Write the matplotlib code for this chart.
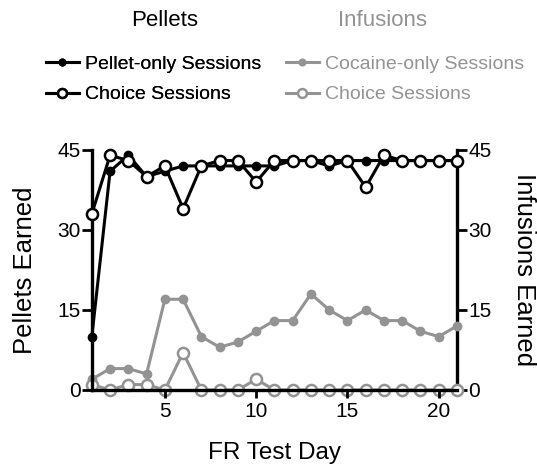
import numpy as np
import matplotlib.pyplot as plt

plt.rcParams['font.family'] = ['Liberation Sans', 'DejaVu Sans']

days = np.arange(1, 22)
pellet_only = [10, 41, 44, 40, 41, 42, 42, 42, 42, 42, 42, 43, 43, 42, 43, 43, 43, 43, 43, 43, 43]
pellet_choice = [33, 44, 43, 40, 42, 34, 42, 43, 43, 39, 43, 43, 43, 43, 43, 38, 44, 43, 43, 43, 43]
cocaine_only = [2, 4, 4, 3, 17, 17, 10, 8, 9, 11, 13, 13, 18, 15, 13, 15, 13, 13, 11, 10, 12]
infusion_choice = [1, 0, 1, 1, 0, 7, 0, 0, 0, 2, 0, 0, 0, 0, 0, 0, 0, 0, 0, 0, 0]

gray = '#939393'

fig = plt.figure(figsize=(5.37, 4.67), dpi=100)
ax = fig.add_axes([0.171, 0.165, 0.68, 0.514])
ax2 = ax.twinx()

lw = 2.2
# infusions on right axis
l3, = ax2.plot(days, cocaine_only, color=gray, lw=lw, marker='o', ms=6,
               mfc=gray, mec=gray, clip_on=False, zorder=3)
l4, = ax2.plot(days, infusion_choice, color=gray, lw=lw, marker='o', ms=8,
               mfc='white', mec=gray, mew=1.8, clip_on=False, zorder=4)
# pellets on left axis
ax.set_zorder(ax2.get_zorder() + 1)
ax.patch.set_visible(False)
l1, = ax.plot(days, pellet_only, color='black', lw=lw, marker='o', ms=6,
              mfc='black', mec='black', clip_on=False, zorder=3)
l2, = ax.plot(days, pellet_choice, color='black', lw=lw, marker='o', ms=8,
              mfc='white', mec='black', mew=1.8, clip_on=False, zorder=4)

for a in (ax, ax2):
    a.set_xlim(1, 21)
    a.set_ylim(0, 45)
    a.set_yticks([0, 15, 30, 45])
    a.spines['top'].set_visible(False)
    for s in ('left', 'right', 'bottom'):
        a.spines[s].set_linewidth(2.4)
    a.tick_params(axis='both', labelsize=15, width=2, length=7)

ax.spines['right'].set_visible(False)
ax2.spines['left'].set_visible(False)
ax2.spines['bottom'].set_visible(False)
ax.set_xticks([5, 10, 15, 20])
ax.tick_params(axis='x', length=6, pad=3)
ax.tick_params(axis='y', pad=1)
ax2.tick_params(axis='y', pad=1)

ax.set_xlabel('FR Test Day', fontsize=17.5, labelpad=15)
ax.set_ylabel('Pellets Earned', fontsize=18.5, labelpad=15)
ax2.set_ylabel('Infusions Earned', fontsize=18.5, rotation=270, labelpad=32)

fig.text(0.307, 0.957, 'Pellets', fontsize=16, ha='center', va='center')
fig.text(0.713, 0.957, 'Infusions', fontsize=16, ha='center', va='center', color=gray)

leg1 = fig.legend([l1, l2], ['Pellet-only Sessions', 'Choice Sessions'],
                  loc='upper left', bbox_to_anchor=(0.085, 0.881), frameon=False,
                  fontsize=14, handlelength=1.7, handletextpad=0.3, labelspacing=0.65,
                  borderpad=0, borderaxespad=0, markerscale=0.8)
leg2 = fig.legend([l3, l4], ['Cocaine-only Sessions', 'Choice Sessions'],
                  loc='upper left', bbox_to_anchor=(0.532, 0.881), frameon=False,
                  fontsize=14, handlelength=1.7, handletextpad=0.3, labelspacing=0.65,
                  borderpad=0, borderaxespad=0, markerscale=0.8, labelcolor=gray)
fig.add_artist(leg1)

fig.savefig('out.png', dpi=100)
